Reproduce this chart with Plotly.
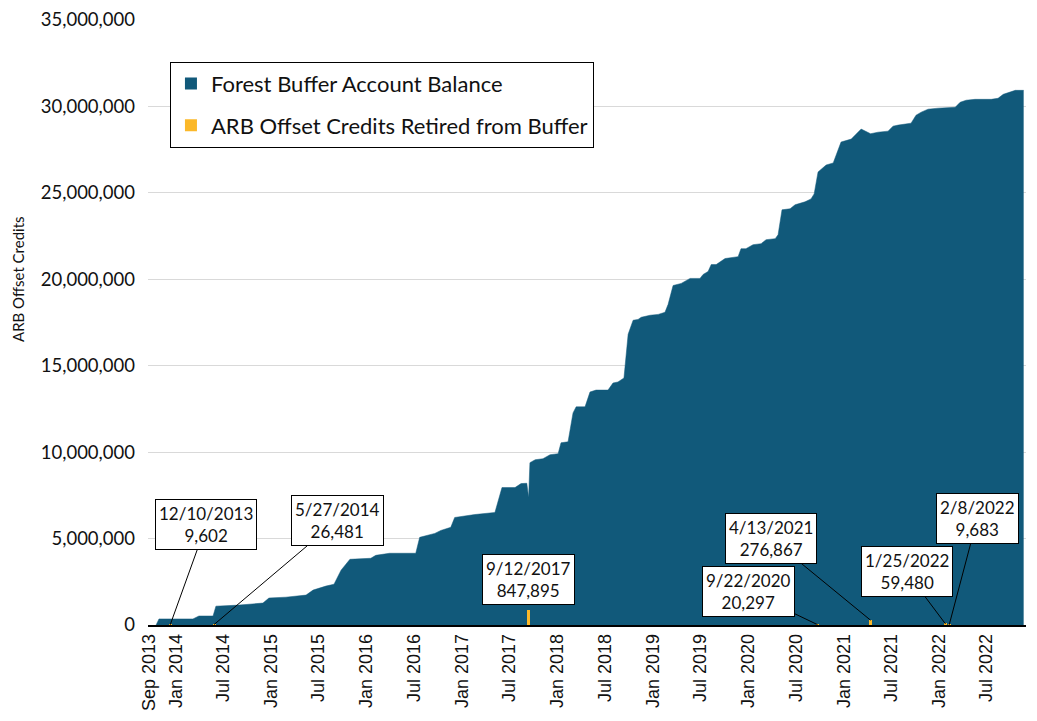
import plotly.graph_objects as go

# Forest Buffer Account Balance (date, credits)
balance_dates = [
    "2013-10-17", "2013-10-28", "2014-03-07", "2014-03-30", "2014-05-23", "2014-06-03",
    "2014-08-30", "2014-11-30", "2014-12-23", "2015-02-26", "2015-05-14", "2015-06-10",
    "2015-07-29", "2015-08-29", "2015-09-25", "2015-10-29", "2016-01-17", "2016-02-05",
    "2016-03-29", "2016-07-07", "2016-07-22", "2016-09-18", "2016-10-11", "2016-11-18",
    "2016-12-03", "2017-02-18", "2017-05-06", "2017-06-02", "2017-07-22", "2017-08-14",
    "2017-09-05", "2017-09-12", "2017-09-17", "2017-10-07", "2017-11-06", "2017-12-03",
    "2018-01-03", "2018-01-14", "2018-02-10", "2018-03-01", "2018-03-13", "2018-04-16",
    "2018-05-05", "2018-05-28", "2018-07-13", "2018-08-01", "2018-08-20", "2018-09-12",
    "2018-09-28", "2018-10-17", "2018-11-05", "2018-11-17", "2018-12-21", "2019-01-21",
    "2019-02-16", "2019-02-28", "2019-03-19", "2019-04-19", "2019-05-23", "2019-06-30",
    "2019-07-12", "2019-07-31", "2019-08-12", "2019-08-31", "2019-10-04", "2019-11-23",
    "2019-12-04", "2019-12-23", "2020-01-19", "2020-02-19", "2020-03-09", "2020-04-13",
    "2020-04-24", "2020-05-09", "2020-06-09", "2020-06-28", "2020-08-05", "2020-08-28",
    "2020-09-09", "2020-09-24", "2020-10-25", "2020-11-21", "2020-12-21", "2021-01-29",
    "2021-02-17", "2021-03-08", "2021-04-13", "2021-05-12", "2021-06-19", "2021-07-08",
    "2021-07-28", "2021-09-15", "2021-10-04", "2021-10-24", "2021-11-19", "2021-12-28",
    "2022-03-03", "2022-03-22", "2022-04-14", "2022-05-18", "2022-07-19", "2022-08-14",
    "2022-09-03", "2022-10-03", "2022-10-19", "2022-11-20",
]
balance_values = [
    0, 350000, 350000, 520000, 520000, 1090000,
    1150000, 1270000, 1560000, 1610000, 1730000, 2020000,
    2250000, 2360000, 3170000, 3800000, 3860000, 4030000,
    4150000, 4150000, 5070000, 5300000, 5470000, 5650000,
    6220000, 6390000, 6510000, 7950000, 7950000, 8180000,
    8200000, 7370000, 9390000, 9560000, 9620000, 9850000,
    9910000, 10540000, 10600000, 12270000, 12620000, 12620000,
    13480000, 13590000, 13590000, 14000000, 14060000, 14290000,
    16820000, 17630000, 17680000, 17800000, 17920000, 17970000,
    18090000, 18550000, 19640000, 19760000, 20050000, 20050000,
    20280000, 20450000, 20850000, 20850000, 21200000, 21310000,
    21770000, 21770000, 22000000, 22060000, 22290000, 22350000,
    22580000, 24020000, 24080000, 24310000, 24480000, 24650000,
    24940000, 26210000, 26610000, 26730000, 27940000, 28110000,
    28400000, 28690000, 28420000, 28510000, 28570000, 28860000,
    28920000, 29030000, 29490000, 29670000, 29840000, 29900000,
    29950000, 30240000, 30360000, 30410000, 30410000, 30470000,
    30700000, 30880000, 30930000, 30930000,
]

# ARB Offset Credits Retired from Buffer
retire_dates = ["2013-12-10", "2014-05-27", "2017-09-12", "2020-09-22",
                "2021-04-13", "2022-01-25", "2022-02-08"]
retire_values = [9602, 26481, 847895, 20297, 276867, 59480, 9683]
retire_labels = ["12/10/2013", "5/27/2014", "9/12/2017", "9/22/2020",
                 "4/13/2021", "1/25/2022", "2/8/2022"]

tick_dates = ["2013-09-20", "2014-01-01", "2014-07-01", "2015-01-01", "2015-07-01",
              "2016-01-01", "2016-07-01", "2017-01-01", "2017-07-01", "2018-01-01",
              "2018-07-01", "2019-01-01", "2019-07-01", "2020-01-01", "2020-07-01",
              "2021-01-01", "2021-07-01", "2022-01-01", "2022-07-01"]
tick_text = ["Sep 2013", "Jan 2014", "Jul 2014", "Jan 2015", "Jul 2015", "Jan 2016",
             "Jul 2016", "Jan 2017", "Jul 2017", "Jan 2018", "Jul 2018", "Jan 2019",
             "Jul 2019", "Jan 2020", "Jul 2020", "Jan 2021", "Jul 2021", "Jan 2022",
             "Jul 2022"]

BLUE = "#11597A"
ORANGE = "#FBB829"
FONT = "Lato"

fig = go.Figure()
fig.add_trace(go.Scatter(x=balance_dates, y=balance_values, mode="lines",
                         line=dict(color=BLUE, width=0.5), fill="tozeroy",
                         fillcolor=BLUE, showlegend=False, hoverinfo="skip"))
fig.add_trace(go.Bar(x=retire_dates, y=retire_values, marker=dict(color=ORANGE, line=dict(width=0)),
                     width=[11.5 * 86400000] * len(retire_dates), yaxis="y2",
                     showlegend=False, hoverinfo="skip"))
# legend entries
fig.add_trace(go.Scatter(x=[None], y=[None], mode="markers", name="Forest Buffer Account Balance",
                         marker=dict(symbol="square", size=12, color=BLUE), legendgroup="a"))
fig.add_trace(go.Scatter(x=[None], y=[None], mode="markers", name="ARB Offset Credits Retired from Buffer",
                         marker=dict(symbol="square", size=12, color=ORANGE), legendgroup="b"))

# annotation offsets (pixels)
offsets = [(36, -100), (123, -104), (None, None), (-69, -33), (-100, -82), (-39, -52), (28, -106)]
for d, v, lab, off in zip(retire_dates, retire_values, retire_labels, offsets):
    text = f"{lab}<br>{v:,}"
    common = dict(text=text, xref="x", yref="y", font=dict(family=FONT, size=17, color="#111"),
                  bgcolor="white", bordercolor="black", borderwidth=1, borderpad=3, align="center")
    if off[0] is None:
        fig.add_annotation(x=d, y=0, showarrow=False, yanchor="bottom", yshift=20, **common)
    else:
        fig.add_annotation(x=d, y=v, showarrow=True, ax=off[0], ay=off[1], arrowhead=0,
                           arrowwidth=1, arrowcolor="black", standoff=0, **common)

# y-axis title
fig.add_annotation(text="ARB Offset Credits", textangle=-90, xref="paper", yref="paper",
                   x=-0.148, y=0.572, xanchor="center", yanchor="middle", showarrow=False,
                   font=dict(family=FONT, size=15, color="#111"))

fig.update_layout(
    width=1029, height=713,
    margin=dict(l=140, r=11, t=12, b=96),
    paper_bgcolor="white", plot_bgcolor="white",
    bargap=0,
    font=dict(family=FONT, color="#111"),
    showlegend=True,
    legend=dict(x=0.025, y=0.931, xanchor="left", yanchor="top", bgcolor="white",
                bordercolor="black", borderwidth=1, font=dict(family=FONT, size=22, color="#111"),
                traceorder="grouped", tracegroupgap=10),
    xaxis=dict(type="date", range=["2013-09-16", "2022-11-29"], tickvals=tick_dates,
               ticktext=tick_text, tickangle=-90, showgrid=False, showline=True,
               linecolor="black", linewidth=1.5, ticks="", zeroline=False, automargin=False,
               tickfont=dict(family="Liberation Sans", size=18, color="#111")),
    yaxis=dict(range=[0, 35000000], dtick=5000000, tickformat=",d", showgrid=True,
               gridcolor="#d9d9d9", gridwidth=1, zeroline=False, showline=False, ticks="",
               ticklabelstandoff=12, ticklabeloverflow="allow", automargin=False,
               tickfont=dict(family=FONT, size=18.5, color="#111")),
    yaxis2=dict(range=[0, 35000000], overlaying="y", visible=False),
)

fig.write_html("out.html")
